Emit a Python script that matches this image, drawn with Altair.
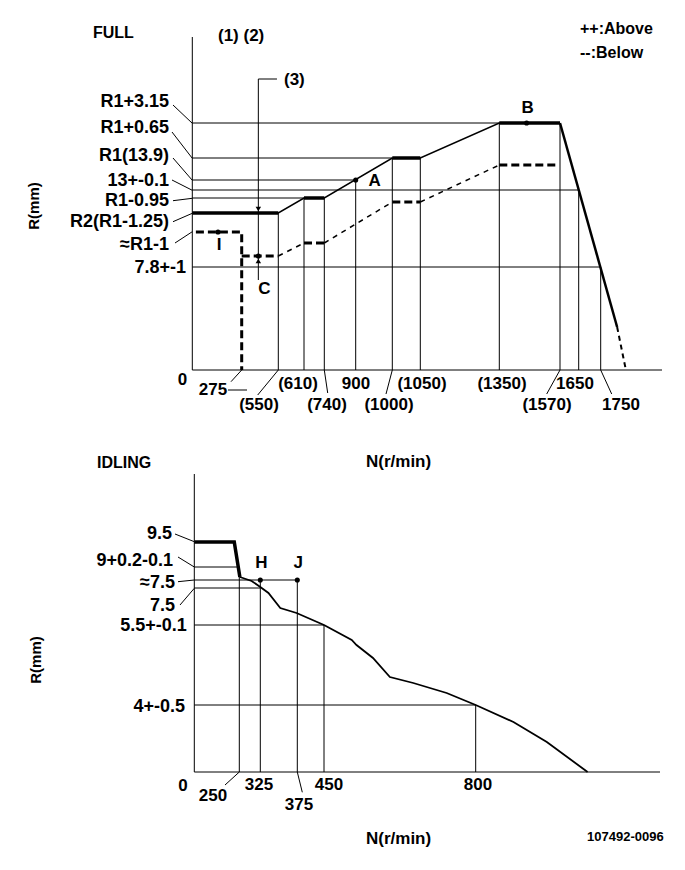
import altair as alt
import pandas as pd

# ================= DATA : FULL (upper diagram) =================
# speed ticks N (r/min) and their labels
FULL_TICK_RPM = [275, 550, 610, 740, 900, 1000, 1050, 1350, 1570, 1650, 1750]
FULL_TICK_TEXT = ["275", "(550)", "(610)", "(740)", "900", "(1000)", "(1050)",
                  "(1350)", "(1570)", "1650", "1750"]
FULL_LEVEL_TEXT = ["R1+3.15", "R1+0.65", "R1(13.9)", "13+-0.1", "R1-0.95",
                   "R2(R1-1.25)", "≈R1-1", "7.8+-1"]
FULL_LEVEL_H = [247, 212, 190, 180, 172, 157, 138, 103]
FULL_AXIS_TOP = 333
FULL_AXIS_END = 2030

# "above" full-load curve (solid)
ABOVE_RPM = [0, 550, 610, 740, 1000, 1050, 1350, 1570]
ABOVE_H = [157, 157, 172, 172, 212, 212, 247, 247]
DROOP_RPM = [1570, 1825]
DROOP_H = [247, 43]
# "below" curve (dashed)
BELOW_STEP_RPM = [20, 275, 275]
BELOW_STEP_H = [138, 138, 0]
BELOW_RPM = [275, 550, 610, 740, 1000, 1050, 1350, 1560]
BELOW_H = [114, 114, 127, 127, 168, 168, 205, 205]
TAIL_RPM = [1825, 1865]
TAIL_H = [43, 0]

# thin reference lines
FULL_HLINE_H = [247, 212, 190, 180, 172, 103]
FULL_HLINE_END = [1350, 1000, 900, 1650, 610, 1750]
FULL_VLINE_RPM = [550, 610, 740, 900, 1000, 1050, 1350, 1570, 1650, 1750]
FULL_VLINE_TOP = [157, 172, 172, 190, 212, 212, 247, 247, 180, 103]

# measuring points
FULL_PT_NAME = ["I", "C", "A", "B"]
FULL_PT_RPM = [143, 400, 900, 1449]
FULL_PT_H = [138, 114, 190, 247]
# marker (3)
MARK3_RPM = [400, 400, 540]
MARK3_H = [90, 291, 291]

# ================= DATA : IDLING (lower diagram) =================
IDLE_TICK_RPM = [250, 325, 375, 450, 800]
IDLE_TICK_TEXT = ["250", "325", "375", "450", "800"]
IDLE_LEVEL_TEXT = ["9.5", "9+0.2-0.1", "≈7.5", "7.5", "5.5+-0.1", "4+-0.5"]
IDLE_LEVEL_H = [230, 205, 192, 184, 147, 67]
IDLE_AXIS_TOP = 298
IDLE_AXIS_END = 1225

IDLE_THICK_RPM = [0, 222, 252]
IDLE_THICK_H = [230, 230, 195]
IDLE_RPM = [252, 294, 325, 336, 352, 374, 450, 514, 525, 563, 602, 656, 733, 800, 887, 964, 1058]
IDLE_H = [195, 191, 185, 179, 164, 159, 147, 132, 127, 114, 95, 89, 79, 67, 50, 30, 0]

IDLE_HLINE_H = [205, 192, 184, 147, 67]
IDLE_HLINE_END = [250, 375, 325, 450, 800]
IDLE_VLINE_RPM = [250, 325, 375, 450, 800]
IDLE_VLINE_TOP = [205, 192, 192, 147, 67]

IDLE_PT_NAME = ["H", "J"]
IDLE_PT_RPM = [325, 375]
IDLE_PT_H = [192, 192]

# ================= LAYOUT (page pixels) =================
M = 8  # page margin
FONT = "Liberation Sans, Arial, DejaVu Sans"

FULL_X = alt.Scale(domain=[0] + FULL_TICK_RPM + [FULL_AXIS_END],
                   range=[v - M for v in [192.3, 241.7, 278.3, 304, 324.3, 355.7, 392.3,
                                          420.3, 499.3, 560, 578.7, 600.7, 662]],
                   zero=False, nice=False)
FULL_Y = alt.Scale(domain=[0, FULL_AXIS_TOP], range=[370 - M, 37 - M], zero=False, nice=False)
IDLE_X = alt.Scale(domain=[0] + IDLE_TICK_RPM + [IDLE_AXIS_END],
                   range=[v - M for v in [194.3, 239.3, 260.3, 297.3, 324, 475.7, 660]],
                   zero=False, nice=False)
IDLE_Y = alt.Scale(domain=[0, IDLE_AXIS_TOP], range=[772 - M, 474 - M], zero=False, nice=False)


def seg_df(segs):
    rows = []
    for s, (rs, hs) in enumerate(segs):
        for i, (r, h) in enumerate(zip(rs, hs)):
            rows.append(dict(seg=s, i=i, rpm=r, h=h))
    return pd.DataFrame(rows)


def pairs(rs, hs, start):
    return [([rs[k], rs[k + 1]], [hs[k], hs[k + 1]]) for k in range(start, len(rs) - 1, 2)]


def line_layer(segs, xs, ys, **mk):
    return alt.Chart(seg_df(segs)).mark_line(color="black", **mk).encode(
        x=alt.X("rpm:Q", scale=xs, axis=None),
        y=alt.Y("h:Q", scale=ys, axis=None),
        detail="seg:N", order="i:Q")


def hrules(hs, x1, x2, xs, ys, w=1):
    df = pd.DataFrame(dict(h=hs, a=x1, b=x2))
    return alt.Chart(df).mark_rule(color="black", strokeWidth=w).encode(
        x=alt.X("a:Q", scale=xs, axis=None), x2="b:Q",
        y=alt.Y("h:Q", scale=ys, axis=None))


def vrules(rs, h1, h2, xs, ys, w=1):
    df = pd.DataFrame(dict(rpm=rs, a=h1, b=h2))
    return alt.Chart(df).mark_rule(color="black", strokeWidth=w).encode(
        x=alt.X("rpm:Q", scale=xs, axis=None),
        y=alt.Y("a:Q", scale=ys, axis=None), y2="b:Q")


def points(names, rs, hs, xs, ys):
    df = pd.DataFrame(dict(n=names, rpm=rs, h=hs))
    return alt.Chart(df).mark_circle(color="black", size=26, opacity=1).encode(
        x=alt.X("rpm:Q", scale=xs, axis=None), y=alt.Y("h:Q", scale=ys, axis=None))


def point_label(names, rs, hs, xs, ys, which, dx, dy):
    df = pd.DataFrame(dict(n=names, rpm=rs, h=hs))
    df = df[df.n.isin(which)]
    return alt.Chart(df).mark_text(font=FONT, fontWeight="bold", fontSize=17, color="black",
                                   dx=dx, dy=dy, baseline="middle").encode(
        x=alt.X("rpm:Q", scale=xs, axis=None), y=alt.Y("h:Q", scale=ys, axis=None), text="n:N")


# ---------------- upper diagram layers ----------------
n_full = len(FULL_HLINE_H)
top_layers = [
    hrules([0], [0], [FULL_AXIS_END], FULL_X, FULL_Y),
    vrules([0], [0], [FULL_AXIS_TOP], FULL_X, FULL_Y),
    hrules(FULL_HLINE_H, [0] * n_full, FULL_HLINE_END, FULL_X, FULL_Y),
    vrules(FULL_VLINE_RPM, [0] * len(FULL_VLINE_RPM), FULL_VLINE_TOP, FULL_X, FULL_Y),
    line_layer([(MARK3_RPM, MARK3_H)], FULL_X, FULL_Y, strokeWidth=1),
    line_layer([(ABOVE_RPM, ABOVE_H)], FULL_X, FULL_Y, strokeWidth=1.5),
    line_layer(pairs(ABOVE_RPM, ABOVE_H, 0), FULL_X, FULL_Y, strokeWidth=3.5),
    line_layer([(DROOP_RPM, DROOP_H)], FULL_X, FULL_Y, strokeWidth=2.5),
    line_layer([(BELOW_STEP_RPM, BELOW_STEP_H)] + pairs(BELOW_RPM, BELOW_H, 0),
               FULL_X, FULL_Y, strokeWidth=3, strokeDash=[8, 4]),
    line_layer(pairs(BELOW_RPM, BELOW_H, 1), FULL_X, FULL_Y, strokeWidth=1.5, strokeDash=[5, 5]),
    line_layer([(TAIL_RPM, TAIL_H)], FULL_X, FULL_Y, strokeWidth=2, strokeDash=[5, 4]),
    points(FULL_PT_NAME, FULL_PT_RPM, FULL_PT_H, FULL_X, FULL_Y),
    alt.Chart(pd.DataFrame(dict(rpm=[400], h=[157]))).mark_point(
        shape="triangle-down", filled=True, color="black", size=30, opacity=1, yOffset=-4).encode(
        x=alt.X("rpm:Q", scale=FULL_X, axis=None), y=alt.Y("h:Q", scale=FULL_Y, axis=None)),
    alt.Chart(pd.DataFrame(dict(rpm=[400], h=[114]))).mark_point(
        shape="triangle-up", filled=True, color="black", size=30, opacity=1, yOffset=5).encode(
        x=alt.X("rpm:Q", scale=FULL_X, axis=None), y=alt.Y("h:Q", scale=FULL_Y, axis=None)),
    point_label(FULL_PT_NAME, FULL_PT_RPM, FULL_PT_H, FULL_X, FULL_Y, ["I"], 1, 13),
    point_label(FULL_PT_NAME, FULL_PT_RPM, FULL_PT_H, FULL_X, FULL_Y, ["C"], 6, 33),
    point_label(FULL_PT_NAME, FULL_PT_RPM, FULL_PT_H, FULL_X, FULL_Y, ["A"], 19, 1),
    point_label(FULL_PT_NAME, FULL_PT_RPM, FULL_PT_H, FULL_X, FULL_Y, ["B"], 1, -15),
]

# ---------------- lower diagram layers ----------------
bot_layers = [
    hrules([0], [0], [IDLE_AXIS_END], IDLE_X, IDLE_Y),
    vrules([0], [0], [IDLE_AXIS_TOP], IDLE_X, IDLE_Y),
    hrules(IDLE_HLINE_H, [0] * len(IDLE_HLINE_H), IDLE_HLINE_END, IDLE_X, IDLE_Y),
    vrules(IDLE_VLINE_RPM, [0] * len(IDLE_VLINE_RPM), IDLE_VLINE_TOP, IDLE_X, IDLE_Y),
    line_layer([(IDLE_RPM, IDLE_H)], IDLE_X, IDLE_Y, strokeWidth=1.8),
    line_layer([(IDLE_THICK_RPM, IDLE_THICK_H)], IDLE_X, IDLE_Y, strokeWidth=3.5),
    points(IDLE_PT_NAME, IDLE_PT_RPM, IDLE_PT_H, IDLE_X, IDLE_Y),
    point_label(IDLE_PT_NAME, IDLE_PT_RPM, IDLE_PT_H, IDLE_X, IDLE_Y, ["H", "J"], 1, -17),
]

# ---------------- annotation layers (page pixel layout) ----------------
LEFT_TEXT = FULL_LEVEL_TEXT + IDLE_LEVEL_TEXT
LEFT_X = [169, 169, 169, 169, 169, 169, 169, 186, 172, 173, 175, 175, 186.7, 185]
LEFT_Y = [102, 127.5, 156, 181, 200.7, 221.7, 245, 268, 534, 561, 583, 605.7, 626, 707]

TICK_TEXT = ["0"] + FULL_TICK_TEXT + ["0"] + IDLE_TICK_TEXT
TICK_X = [182.5, 213, 259, 298, 327, 356, 389, 422, 502, 547, 575, 621,
          183, 213, 259, 299, 329, 478]
TICK_Y = [380, 390, 405, 383.5, 405, 383.5, 405, 383.5, 383.5, 405, 383.5, 405,
          786, 795.5, 785, 805, 785, 785]

MISC_TEXT = ["FULL", "(1) (2)", "(3)", "++:Above", "--:Below", "IDLING",
             "N(r/min)", "N(r/min)", "107492-0096"]
MISC_X = [93, 218, 284, 580, 580, 97, 366, 366, 587]
MISC_Y = [32.5, 36, 80, 29, 52.5, 463, 462, 839, 837]
MISC_SIZE = [16, 17, 17, 16, 16, 16, 17, 17, 13]

ROT_TEXT = ["R(mm)", "R(mm)"]
ROT_X = [34, 36]
ROT_Y = [206, 660]

LEADERS = [
    (173, 105, 192.3, 123.3), (172, 132, 192.3, 158.3), (173, 158, 192.3, 180.3),
    (172, 180, 192.3, 190.3), (173, 200.7, 192.3, 198.3), (173, 221.7, 192.3, 213.3),
    (175, 243, 192.3, 231.7),
    (228, 390, 247, 390),
    (231, 381.7, 241.7, 370), (257.7, 395, 278.3, 370), (324.3, 370, 327.7, 393),
    (386, 394, 392.3, 370), (546.7, 394, 560, 370), (600.7, 370, 611.7, 394),
    (175, 534, 194.3, 541.7), (178, 557, 194.3, 567), (178, 581.7, 194.3, 580),
    (180, 605, 194.3, 588.3),
    (225, 785, 239.3, 772), (297.3, 772, 302.3, 792.3),
]


def txt_df(texts, xs, ys, sizes):
    return pd.DataFrame(dict(t=texts, px=[x - M for x in xs], py=[y - M for y in ys], s=sizes))


def text_layer(df, align, angle=0):
    return alt.Chart(df).mark_text(align=align, baseline="middle", font=FONT, fontWeight="bold",
                                   color="black", angle=angle).encode(
        x=alt.X("px:Q", scale=None, axis=None), y=alt.Y("py:Q", scale=None, axis=None),
        text="t:N", size=alt.Size("s:Q", scale=None, legend=None))


lead_df = pd.DataFrame([(a - M, b - M, c - M, d - M) for a, b, c, d in LEADERS],
                       columns=["a", "b", "c", "d"])
ann_layers = [
    alt.Chart(lead_df).mark_rule(color="black", strokeWidth=1).encode(
        x=alt.X("a:Q", scale=None, axis=None), y=alt.Y("b:Q", scale=None, axis=None),
        x2="c:Q", y2="d:Q"),
    text_layer(txt_df(LEFT_TEXT, LEFT_X, LEFT_Y, [18] * len(LEFT_TEXT)), "right"),
    text_layer(txt_df(TICK_TEXT, TICK_X, TICK_Y, [17] * len(TICK_TEXT)), "center"),
    text_layer(txt_df(MISC_TEXT, MISC_X, MISC_Y, MISC_SIZE), "left"),
    text_layer(txt_df(ROT_TEXT, ROT_X, ROT_Y, [15, 15]), "center", angle=270),
]

chart = alt.layer(
    alt.layer(*top_layers),
    alt.layer(*bot_layers),
    alt.layer(*ann_layers),
).resolve_scale(x="independent", y="independent").properties(
    width=669, height=854, padding=0,
    autosize=alt.AutoSizeParams(type="none"),
    background="white",
).configure_view(stroke=None)

chart.save("out.html", embed_options={"renderer": "svg", "actions": False})
